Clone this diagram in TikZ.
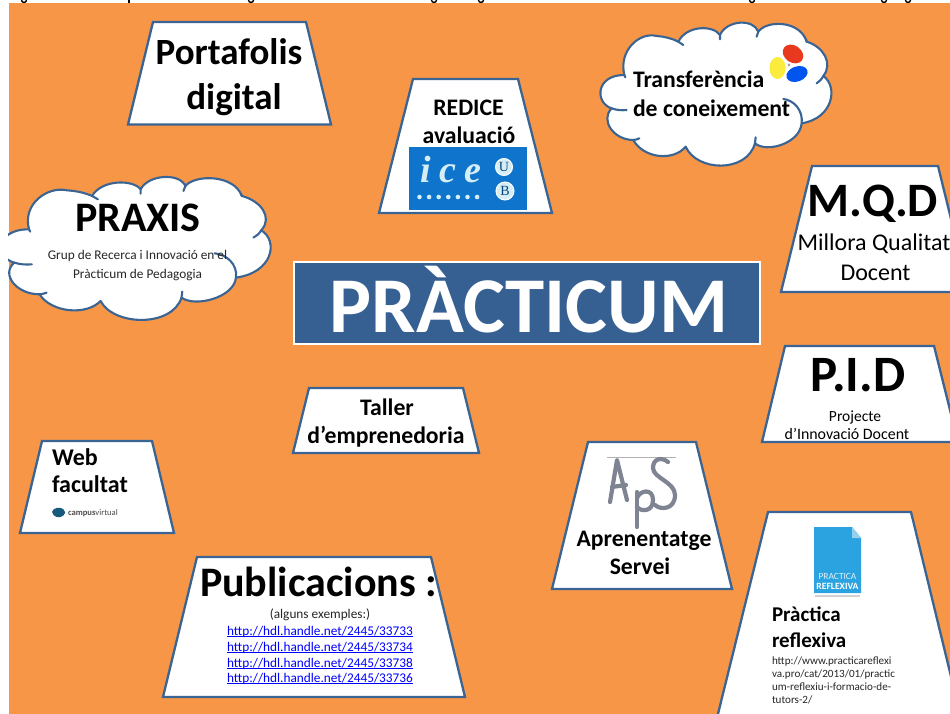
\documentclass[tikz,border=0pt]{standalone}
\usepackage{fontspec}
\setmainfont{Carlito}
\newfontfamily\serifice{Liberation Serif}
\definecolor{bgorange}{HTML}{F79646}
\definecolor{edgeblue}{HTML}{3A6494}
\definecolor{titleblue}{HTML}{376092}
\definecolor{iceblue}{HTML}{0F74CC}
\definecolor{icelight}{HTML}{D5EEF6}
\definecolor{docblue}{HTML}{2AA3E0}
\definecolor{apsgrey}{HTML}{7F8492}
\definecolor{leafred}{HTML}{E8391F}
\definecolor{leafyellow}{HTML}{FAEB3C}
\definecolor{leafblue}{HTML}{0055F0}
\newcommand{\fs}[1]{\fontsize{#1}{#1}\selectfont}
\newsavebox{\ulbox}
\newcommand{\ulink}[1]{\sbox{\ulbox}{#1}\rlap{\rule[-1.7pt]{\wd\ulbox}{0.7pt}}\usebox{\ulbox}}
\newcommand{\cloudoutline}{
  (103,225) .. controls (85,150) and (150,95) .. (200,108)
  .. controls (225,110) and (245,115) .. (265,125)
  .. controls (290,75) and (370,75) .. (390,105)
  .. controls (410,60) and (490,55) .. (505,95)
  .. controls (530,60) and (630,60) .. (650,125)
  .. controls (700,140) and (730,190) .. (700,228)
  .. controls (745,260) and (730,355) .. (635,370)
  .. controls (630,430) and (530,460) .. (495,430)
  .. controls (470,520) and (320,515) .. (287,440)
  .. controls (250,485) and (160,475) .. (130,420)
  .. controls (70,420) and (30,360) .. (65,325)
  .. controls (15,310) and (15,225) .. (103,225) -- cycle
}
\newcommand{\cloudticks}{
  (265,125) -- (280,135)
  (390,105) -- (390,118)
  (505,95) -- (500,110)
  (650,125) -- (648,118)
  (700,228) .. controls (695,238) and (688,245) .. (680,250)
  (635,370) .. controls (640,330) and (610,300) .. (580,297)
  (495,430) -- (497,412)
  (130,420) .. controls (136,420) and (142,418) .. (148,415)
  (65,325) .. controls (78,330) and (95,332) .. (110,330)
  (103,225) -- (106,232)
}
\tikzset{
  x=1pt,y=-1pt,
  trap/.style={draw=edgeblue,fill=white,line width=2.3pt,line join=miter},
  cloudfill/.style={fill=white},
  cloudline/.style={draw=edgeblue,line width=2.1pt,line cap=round,line join=round},
  txt/.style={anchor=base,inner sep=0pt,outer sep=0pt,text=black},
  ltxt/.style={anchor=base west,inner sep=0pt,outer sep=0pt,text=black},
  cut/.style={draw=black,line width=1.4pt},
  apsline/.style={draw=apsgrey,line width=4.2pt,line cap=round,line join=round},
  link/.style={txt,text=blue,font=\fs{13.3}},
  urltxt/.style={ltxt,text=black!85,font=\fs{11.1}},
  icedot/.style={fill=icelight,draw=none},
}
\begin{document}
\begin{tikzpicture}
\useasboundingbox (0,0) rectangle (950,714);
\fill[white] (0,0) rectangle (950,714);
\fill[bgorange] (9,3) rectangle (950,714);
% clipped text of the line above the picture
\foreach \cx in {24,251,434,481,752,884,908}
  \draw[cut] (\cx-2.5,0) .. controls (\cx-2.5,3.2) and (\cx+2.5,3.2) .. (\cx+2.5,0);
\draw[cut] (129,0) -- (129,3);
% Portafolis
\draw[trap] (153,22) -- (306,22) -- (331,124.5) -- (128,124.5) -- cycle;
\node[txt,font=\bfseries\fs{37}] (portaf) at (229,65) {Portafolis};
\node[txt,font=\bfseries\fs{37}] (digit) at (234,109.5) {digital};
% REDICE
\draw[trap] (413,79) -- (518,79) -- (552,213) -- (379,213) -- cycle;
\node[txt,font=\bfseries\fs{23.7}] (redice) at (468.5,116) {REDICE};
\node[txt,font=\bfseries\fs{23.7}] (aval) at (469,144) {avaluació};
\fill[iceblue] (409,147) rectangle (527,210);
\node[txt,text=icelight,font=\serifice\bfseries\itshape\fs{38}] (icelogo) at (451,183) {i\hspace{8pt}c\hspace{8pt}e};
\foreach \dx in {0,...,6}
  \fill[icedot] (419.5+\dx*9.6,197) circle (2.3);
\draw[white,line width=1pt,fill=icelight] (504,167) circle (8.5);
\draw[white,line width=1pt,fill=icelight] (505,191) circle (9);
\node[txt,text=iceblue!60!black,font=\serifice\fs{14}] (uletter) at (504,172) {U};
\node[txt,text=iceblue!60!black,font=\serifice\fs{14}] (bletter) at (505,196) {B};
% Transferencia cloud
\begin{scope}[shift={(590,0)},x=0.3333pt,y=-0.3333pt]
  \fill[cloudfill] \cloudoutline;
  \draw[cloudline] \cloudoutline;
  \draw[cloudline] \cloudticks;
\end{scope}
\fill[leafred,rotate around={-35:(793,54)}] (793,54) ellipse (11 and 8.5);
\fill[leafyellow] (777.5,68) ellipse (8 and 11);
\fill[leafblue,rotate around={20:(797,74)}] (797,74) ellipse (11 and 7.5);
\fill[black!35] (789,65) circle (1.6);
\node[ltxt,font=\bfseries\fs{23.7}] (transf) at (633,87.5) {Transferència};
\node[ltxt,font=\bfseries\fs{23.7}] (conei) at (633,116.5) {de coneixement};
% PRAXIS cloud
\begin{scope}
  \clip (8,0) rectangle (950,714);
  \begin{scope}[shift={(-11,154.3)},x=0.3889pt,y=-0.3333pt]
    \fill[cloudfill] \cloudoutline;
    \draw[cloudline] \cloudoutline;
    \draw[cloudline] \cloudticks;
  \end{scope}
\end{scope}
\node[txt,font=\bfseries\fs{42}] (praxis) at (138,232) {PRAXIS};
\node[txt,font=\fs{13.3},text=black!85] (grup) at (137.5,259) {Grup de Recerca i Innovació en el};
\node[txt,font=\fs{13.3},text=black!85] (pedag) at (137.5,278) {Pràcticum de Pedagogia};
% M.Q.D
\draw[trap] (812,166) -- (938,166) -- (969,292) -- (781,292) -- cycle;
\node[txt,font=\bfseries\fs{48}] (mqd) at (873,216) {M.Q.D};
\node[txt,font=\fs{24}] (millora) at (874,251) {Millora Qualitat};
\node[txt,font=\fs{24}] (docent) at (875.5,280) {Docent};
% Title
\draw[fill=titleblue,draw=white,line width=2pt] (293.5,262) rectangle (760,344);
\node[txt,text=white,font=\bfseries\fs{79}] (title) at (529,332.5) {PRÀCTICUM};
% P.I.D
\draw[trap] (785,346) -- (934,346) -- (958,442) -- (762,442) -- cycle;
\node[txt,font=\bfseries\fs{51}] (pid) at (858,391) {P.I.D};
\node[txt,font=\fs{15.5}] (proj) at (855,421) {Projecte};
\node[txt,font=\fs{15.9}] (innov) at (847,439) {d’Innovació Docent};
% Taller
\draw[trap] (309,388) -- (463,388) -- (479,453) -- (293,453) -- cycle;
\node[txt,font=\bfseries\fs{23.7}] (taller) at (387,415) {Taller};
\node[txt,font=\bfseries\fs{23.7}] (empren) at (386,443) {d’emprenedoria};
% Web
\draw[trap] (42,441) -- (152,441) -- (174,533) -- (20,533) -- cycle;
\node[ltxt,font=\bfseries\fs{24}] (web) at (52,465) {Web};
\node[ltxt,font=\bfseries\fs{24}] (facul) at (52,492.5) {facultat};
\fill[docblue!55!black,rounded corners=2pt] (52,510) -- (59,507) -- (65,510) -- (65,515) -- (58,518) -- (52,514) -- cycle;
\node[ltxt,font=\bfseries\fs{8.6},text=black!70] (campus) at (68,515.5) {campus\textmd{virtual}};
% Publicacions
\draw[trap] (197,557) -- (431,557) -- (465,697) -- (163,697) -- cycle;
\node[txt,font=\bfseries\fs{42}] (public) at (318.5,596) {Publicacions :};
\node[txt,font=\fs{13.3},text=black!85] (alguns) at (320,618) {(alguns exemples:)};
\node[link] (l1) at (320,635) {\ulink{http://hdl.handle.net/2445/33733}};
\node[link] (l2) at (320,651) {\ulink{http://hdl.handle.net/2445/33734}};
\node[link] (l3) at (320,667) {\ulink{http://hdl.handle.net/2445/33738}};
\node[link] (l4) at (320,682) {\ulink{http://hdl.handle.net/2445/33736}};
% ApS
\draw[trap] (588,442) -- (696,442) -- (732,589) -- (552,589) -- cycle;
\draw[black!30,line width=0.6pt] (607,457.5) -- (676,457.5);
\draw[apsline] (610,502) -- (617,460) -- (627,500);
\draw[apsline] (612,487) -- (626,485);
\draw[apsline] (637,492) -- (637,527);
\draw[apsline] (637,498) .. controls (640,490) and (653,488) .. (653,500) .. controls (653,512) and (641,512) .. (637,507);
\draw[apsline] (668,462) .. controls (662,457) and (653,458) .. (653,468) .. controls (653,478) and (675,482) .. (675,495) .. controls (675,510) and (660,510) .. (655,505);
\node[txt,font=\bfseries\fs{23.7}] (apren) at (644,546.5) {Aprenentatge};
\node[txt,font=\bfseries\fs{23.7}] (servei) at (640,574.5) {Servei};
% Practica reflexiva
\draw[trap] (768,512) -- (911,512) -- (965,734) -- (713,734) -- cycle;
\fill[docblue] (814,527) -- (852,527) -- (861,538) -- (861,593) -- (814,593) -- cycle;
\fill[docblue!50!white] (852,527) -- (861,538) -- (852,538) -- cycle;
\node[txt,text=white!85!docblue,font=\fs{9.4}] (prac) at (837.5,579) {PRACTICA};
\node[txt,text=white,font=\bfseries\fs{9.6}] (refl) at (837.5,589) {REFLEXIVA};
\fill[black!18] (815,595) rectangle (860,597);
\node[ltxt,font=\bfseries\fs{21}] (pract) at (772,621) {Pràctica};
\node[ltxt,font=\bfseries\fs{21}] (reflex) at (772,647) {reflexiva};
\node[urltxt] (u1) at (772,664) {http://www.practicareflexi};
\node[urltxt] (u2) at (772,677) {va.pro/cat/2013/01/practic};
\node[urltxt] (u3) at (772,690) {um-reflexiu-i-formacio-de-};
\node[urltxt] (u4) at (772,703) {tutors-2/};
\end{tikzpicture}
\end{document}
